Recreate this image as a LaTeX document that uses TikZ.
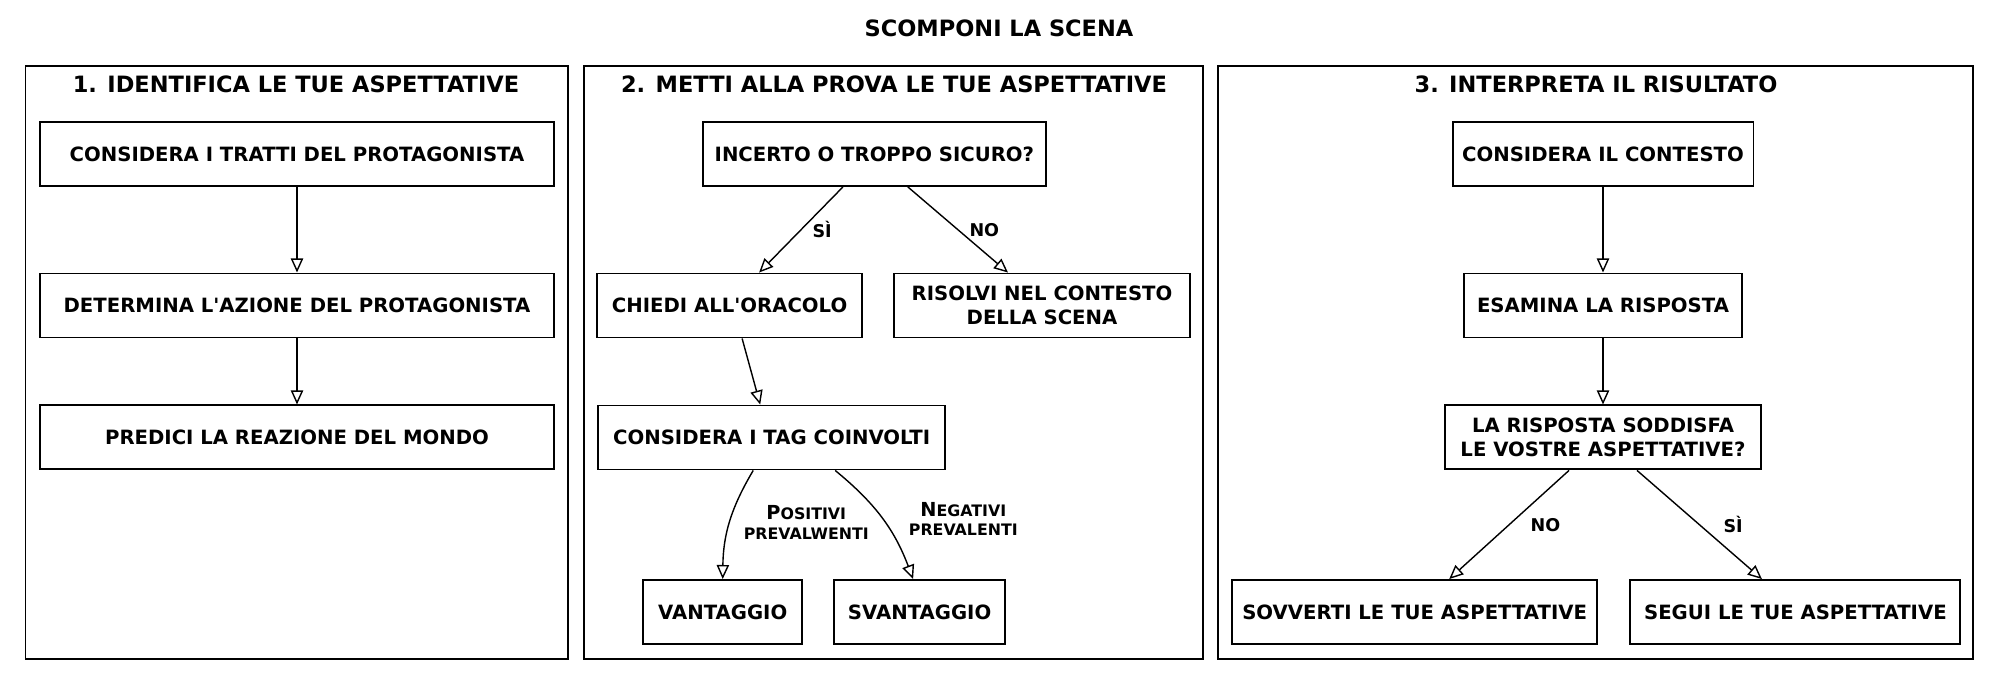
\documentclass[tikz,border=0pt]{standalone}
\usepackage{fontspec}
\setmainfont{DejaVu Sans}
\usetikzlibrary{arrows.meta,positioning}

\newcommand{\boxfont}{\bfseries\fontsize{11.2}{13.5}\selectfont}
\newcommand{\headfont}{\bfseries\fontsize{12.8}{15}\selectfont}
\newcommand{\labfont}{\bfseries\fontsize{10}{12}\selectfont}
\newcommand{\smallfont}{\bfseries\fontsize{9}{11}\selectfont}

\tikzset{
  stepbox/.style={draw, line width=1.1pt, minimum height=1.28cm, inner sep=2pt, align=center, font=\boxfont},
  panel/.style={draw, line width=1.1pt},
  heading/.style={font=\headfont},
  edgelabel/.style={anchor=west, font=\labfont},
}

\begin{document}
\begin{tikzpicture}[x=0.02cm,y=-0.02cm,node distance=2cm,on grid,
    >={Triangle[open,length=8pt,width=7pt]},line width=0.8pt]
            \useasboundingbox (0,0) rectangle (2000,684);
            \node[heading] (title) at (999,28) {SCOMPONI LA SCENA};
            % the three panels
            \draw[panel] (25.5,66.3) rectangle (567.6,659.4);
            \draw[panel] (584.2,66.3) rectangle (1202.8,659.4);
            \draw[panel] (1218.1,66.3) rectangle (1973.2,659.4);
            \node[heading] (h_1) at (296,84) {1. IDENTIFICA LE TUE ASPETTATIVE};
            \node[heading] (h_2) at (894,84) {2. METTI ALLA PROVA LE TUE ASPETTATIVE};
            \node[heading] (h_3) at (1596,84) {3. INTERPRETA IL RISULTATO};

            % panel 1
            \node[stepbox, minimum width=10.3cm] (a_1) at (297,154) {CONSIDERA I TRATTI DEL PROTAGONISTA};
            \node[stepbox, minimum width=10.3cm] (a_2) [below=3.03cm of a_1] {DETERMINA L\textquotesingle AZIONE DEL PROTAGONISTA};
            \node[stepbox, minimum width=10.3cm] (a_3) [below=2.64cm of a_2] {PREDICI LA REAZIONE DEL MONDO};
            \path[->]
                (a_1) edge (a_2)
                (a_2) edge (a_3);

            % panel 2
            \node[stepbox, minimum width=6.86cm] (b_1) at (874.4,154) {INCERTO O TROPPO SICURO?};
            \node[stepbox, minimum width=5.3cm] (b_2) at (729.6,305.5) {CHIEDI ALL\textquotesingle ORACOLO};
            \node[stepbox, minimum width=5.92cm] (b_3) at (1042,305.5) {RISOLVI NEL CONTESTO\\DELLA SCENA};
            \node[stepbox, minimum width=6.94cm] (b_4) at (771.7,437.5) {CONSIDERA I TAG COINVOLTI};
            \node[stepbox, minimum width=3.18cm] (b_5) at (722.7,612) {VANTAGGIO};
            \node[stepbox, minimum width=3.42cm] (b_6) at (919.6,612) {SVANTAGGIO};
            \path[->]
                ([xshift=-0.63cm]b_1.south)
                    edge node[edgelabel, xshift=0.1cm] {SÌ} ([xshift=0.59cm]b_2.north)
                ([xshift=0.67cm]b_1.south)
                    edge node[edgelabel, xshift=0.1cm] {NO} ([xshift=-0.68cm]b_3.north)
                ([xshift=0.25cm]b_2.south)
                    edge ([xshift=-0.23cm]b_4.north)
                ([xshift=-0.37cm]b_4.south)
                    edge [bend right=15] node[edgelabel, font=\smallfont, align=center, xshift=0.15cm]
                        {{\fontsize{11}{11}\selectfont P}OSITIVI\\PREVALWENTI} (b_5.north)
                ([xshift=1.27cm]b_4.south)
                    edge [bend left=15] node[edgelabel, font=\smallfont, align=center, xshift=0.4cm]
                        {{\fontsize{11}{11}\selectfont N}EGATIVI\\PREVALENTI} ([xshift=-0.13cm]b_6.north);

            % panel 3
            \node[stepbox, minimum width=6.02cm] (c_1) at (1603,154) {CONSIDERA IL CONTESTO};
            \node[stepbox, minimum width=5.56cm] (c_2) [below=3.03cm of c_1] {ESAMINA LA RISPOSTA};
            \node[stepbox, minimum width=6.33cm] (c_3) [below=2.64cm of c_2] {LA RISPOSTA SODDISFA\\LE VOSTRE ASPETTATIVE?};
            \node[stepbox, minimum width=7.3cm] (c_4) at (1414.7,612) {SOVVERTI LE TUE ASPETTATIVE};
            \node[stepbox, minimum width=6.6cm] (c_5) at (1795.4,612) {SEGUI LE TUE ASPETTATIVE};
            \path[->]
                (c_1) edge (c_2)
                (c_2) edge (c_3)
                ([xshift=-0.68cm]c_3.south)
                    edge node[edgelabel, xshift=0.3cm] {NO} ([xshift=0.69cm]c_4.north)
                ([xshift=0.68cm]c_3.south)
                    edge node[edgelabel, xshift=0.35cm] {SÌ} ([xshift=-0.67cm]c_5.north);
        \end{tikzpicture}
\end{document}
